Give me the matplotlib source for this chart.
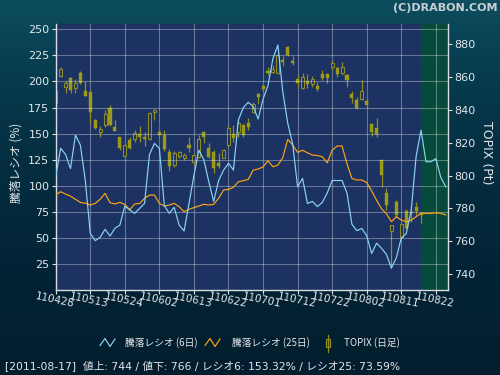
import matplotlib
matplotlib.use('Agg')
import matplotlib.pyplot as plt
import numpy as np
from matplotlib.lines import Line2D
from matplotlib.patches import Rectangle

# ---------------- data ----------------
tick_labels = ['110428', '110513', '110524', '110602', '110613', '110622',
               '110701', '110712', '110722', '110802', '110811', '110822']
tick_index = [0, 7, 14, 21, 28, 35, 42, 49, 56, 63, 70, 77]

ratio6 = [108.7, 135.9, 130, 116.5, 148.6, 139, 105, 54.4, 47.3, 50.5,
          58.2, 51.8, 59.2, 62.3, 80.5, 76.7, 73.5, 78.3, 83.1, 130,
          140.6, 135.9, 81, 73.5, 79.3, 62.3, 56.6, 83, 110, 134,
          125, 104, 85, 105, 115, 121.5, 115, 163, 175, 180,
          176, 164, 183, 196, 222, 235, 190, 160, 140, 99,
          107, 83, 85, 80, 84, 93, 105, 105, 105, 93,
          63, 57, 59, 52, 35, 45, 40, 34, 21, 31,
          50, 54, 76, 128, 153.32, 123, 123, 126, 108, 99]

ratio25 = [91.1, 94.3, 92, 90, 87, 84, 83.3, 81.5, 83, 87,
           92.7, 83.7, 82.5, 84.1, 82, 77, 82.5, 83, 87.9, 91,
           91.1, 83, 80.5, 81.5, 83.1, 79.9, 75.1, 77.4, 79, 80.5,
           82.2, 81.5, 82.2, 88, 95.9, 96.5, 98.5, 103.8, 104.8, 106.1,
           115, 116, 118, 124, 118.2, 119.8, 127, 144.5, 139, 132,
           134, 131.6, 129.4, 129, 127.8, 122, 134, 138.1, 138.1, 121,
           107, 105.5, 105.5, 103, 95, 86, 78, 73, 65.5, 70.3,
           67.1, 65.5, 67, 70.3, 73.59, 73.5, 73.5, 74, 73.5, 72]

topix_open = [844, 861, 854.1, 859.3, 853.5, 862.3, 851.5, 850.9, 833.8, 826.3,
              830.6, 841.3, 829.8, 823.3, 811.9, 821.6, 822.1, 825.1, 823.7, 822.4,
              838.5, 826.3, 824.7, 814.2, 806.5, 812.1, 810.5, 818.6, 808.4, 811.5,
              826.3, 816.6, 814.5, 807.8, 810.9, 818.6, 825.1, 826.3, 830.6, 832.2,
              838.9, 849.7, 854.6, 863.7, 863.3, 862.7, 870.4, 878.5, 869.8, 858.8,
              853.2, 857.6, 855.6, 854.6, 861.9, 861.9, 866.3, 865.7, 862.7, 861.3,
              849.7, 846.0, 846.5, 845.6, 831.2, 829.0, 809.4, 789.5, 766.3, 784.0,
              762.3, 778.3, 777.9, 780.6, 776.9]
topix_high = [854, 866, 857.6, 860, 858.9, 863.7, 857.6, 851.5, 834.4, 830.2,
              840, 843, 833.8, 823.7, 819.2, 823.7, 827.7, 830.2, 826.7, 838.5,
              840.5, 827.7, 827.7, 816, 815, 815.1, 813.5, 823.7, 813.5, 824.7,
              827.1, 820, 815.5, 813.7, 816, 830.8, 830.8, 834.3, 831.2, 834.9,
              844.6, 850.5, 855.8, 866, 867.2, 873.9, 872.9, 879, 872.9, 861.3,
              862.3, 861.7, 860.9, 857.3, 864.3, 862.7, 870.4, 866.3, 869.4, 861.7,
              851.5, 847.7, 858.2, 847.1, 831.8, 835.2, 809.4, 792.2, 769.8, 785.1,
              770.4, 779.4, 779.4, 784.0, 777.9]
topix_low = [841, 860, 850.5, 850.5, 850.5, 855.6, 848.7, 832.2, 828.2, 823.3,
             829.8, 830.2, 827.1, 815.5, 811.5, 815.9, 820.6, 820.6, 818, 821.9,
             834, 822.7, 815.2, 803, 805, 810.5, 809.5, 814.5, 806.5, 810.5,
             820, 810.5, 801.4, 804.6, 810.5, 817.6, 820.6, 823.7, 823.7, 827.7,
             837.9, 843.6, 851.7, 861.3, 862.7, 861.9, 866.8, 873.0, 867.4, 854.1,
             852.7, 853.5, 854.1, 851.5, 858.2, 856.7, 864.3, 860.2, 861.3, 854.1,
             844.4, 840.5, 846.0, 841.0, 824.3, 823.7, 793.2, 779.0, 743.4, 774.9,
             759.6, 767.2, 771.8, 775.9, 770.9]
topix_close = [851.5, 865, 856.2, 852.1, 856.2, 856.6, 848.7, 838.9, 828.8, 828.4,
               837.3, 830.8, 827.1, 816.9, 818.6, 816.9, 826.1, 823.7, 822.4, 837.9,
               840, 824.7, 816, 805.6, 813.9, 814.2, 812.5, 816.9, 812.5, 822.1,
               823.7, 811.5, 804.4, 805.8, 815.5, 828.8, 822.7, 832.2, 824.7, 829.4,
               843.6, 848.0, 852.7, 862.3, 864.8, 873.5, 869.0, 873.5, 868.4, 856.6,
               859.9, 856.0, 858.7, 852.7, 859.6, 859.6, 868.8, 861.7, 866.3, 858.2,
               847.4, 841.0, 851.5, 843.0, 826.3, 825.3, 800.3, 782.0, 769.8, 775.9,
               770.4, 767.8, 776.9, 778.5, 775.9]

last_day_index = 74
left_ticks = [25, 50, 75, 100, 125, 150, 175, 200, 225, 250]
right_ticks = [740, 760, 780, 800, 820, 840, 860, 880]

footer = '[2011-08-17]  値上: 744 / 値下: 766 / レシオ6: 153.32% / レシオ25: 73.59%'

# ---------------- style ----------------
W, H = 500, 375
TXT = '#e2e6ea'
NAVY = '#1b3262'
GREEN = '#054a3a'
OLIVE = '#9c9a18'
OLIVE_E = '#8e8c22'
BLUE = '#8ad4f2'
ORANGE = '#ffa514'
CJK = ['DejaVu Sans', 'Noto Sans CJK JP']


def fx(x):
    return x / W


def fy(y):
    return 1 - y / H


fig = plt.figure(figsize=(5, 3.75), dpi=100)

# background gradient
bg = fig.add_axes([0, 0, 1, 1], zorder=-10)
bg.set_axis_off()
yy = np.linspace(0, 1, 200)
stops_y = [0, 0.12, 0.35, 0.7, 1.0]
stops_c = np.array([[12, 78, 94], [8, 66, 84], [5, 50, 68], [3, 36, 54], [2, 30, 46]]) / 255.0
img = np.zeros((200, 200, 3))
for k in range(3):
    img[:, :, k] = np.interp(yy, stops_y, stops_c[:, k])[:, None]
bg.imshow(np.clip(img, 0, 1), aspect='auto', extent=[0, 1, 0, 1], origin='upper')
bg.set_xlim(0, 1)
bg.set_ylim(0, 1)

# main axes
rect = [fx(55.7), fy(290), fx(447.7 - 55.7), (290 - 23.7) / H]
axc = fig.add_axes(rect)
axc.set_facecolor(NAVY)
axl = axc.twinx()
axl.patch.set_visible(False)

x_days = np.arange(len(topix_open))
x_line = np.arange(len(ratio6))
xmax = 79.4

axc.set_xlim(0, xmax)
axc.set_ylim(730.2, 892.6)
axl.set_ylim(0, 255.4)

axc.axvspan(last_day_index, xmax, color=GREEN, zorder=0, lw=0)

# candles
o = np.array(topix_open)
c = np.array(topix_close)
hgh = np.array(topix_high)
low = np.array(topix_low)
up = c >= o
axc.vlines(x_days, low, hgh, color=OLIVE_E, lw=0.9, zorder=3)
bottom = np.minimum(o, c)
height = np.maximum(np.abs(c - o), 0.6)
axc.bar(x_days[~up], height[~up], bottom=bottom[~up], width=0.62,
        color=OLIVE, edgecolor=OLIVE, lw=0.3, zorder=4)
axc.bar(x_days[up], height[up], bottom=bottom[up], width=0.62,
        color=NAVY, edgecolor=OLIVE_E, lw=0.8, zorder=4)

# lines
axl.plot(x_line, ratio25, color=ORANGE, lw=0.85, zorder=5)
axl.plot(x_line, ratio6, color=BLUE, lw=0.85, zorder=6)

# grid
axc.set_xticks(tick_index)
axc.set_xticklabels(tick_labels)
axc.grid(axis='x', color='white', alpha=0.33, lw=0.8)
axc.set_axisbelow(True)
axl.set_yticks(left_ticks)
axl.yaxis.tick_left()
axl.grid(axis='y', color='white', alpha=0.33, lw=0.8)
axc.set_yticks(right_ticks)
axc.yaxis.tick_right()
axl.set_zorder(axc.get_zorder() + 1)

for a in (axc, axl):
    for s in a.spines.values():
        s.set_visible(False)
axl.spines['left'].set_visible(True)
axl.spines['left'].set_color('#d8dde2')
axl.spines['left'].set_linewidth(1.0)
axc.spines['right'].set_visible(True)
axc.spines['right'].set_color('#d8dde2')
axc.spines['right'].set_linewidth(1.0)
axc.spines['bottom'].set_visible(True)
axc.spines['bottom'].set_color('#d8dde2')
axc.spines['bottom'].set_linewidth(1.0)

axl.tick_params(axis='y', colors='#d8dde2', labelcolor=TXT, labelsize=8, length=3, width=0.8, pad=1.5)
axl.tick_params(axis='x', bottom=False, labelbottom=False, top=False)
axc.tick_params(axis='y', colors='#d8dde2', labelcolor=TXT, labelsize=8, length=3, width=0.8, pad=1.5,
                left=False, labelleft=False, right=True, labelright=True)
axc.tick_params(axis='x', colors='#d8dde2', labelcolor=TXT, labelsize=7.5, length=3, width=0.8, pad=1)
for lab in axc.get_xticklabels():
    lab.set_rotation(-12)
    lab.set_ha('center')
    lab.set_rotation_mode('anchor')
    lab.set_va('top')

# axis labels
fig.text(fx(16), fy(163), '騰落レシオ (%)', rotation=90, ha='center', va='center',
         color=TXT, fontsize=8.5, family=['Noto Sans CJK JP', 'DejaVu Sans'])
fig.text(fx(486), fy(153), 'TOPIX (Pt)', rotation=-90, ha='center', va='center',
         color=TXT, fontsize=9, family='DejaVu Sans')

# title
fig.text(fx(497), fy(8), '(C)DRABON.COM', ha='right', va='center', color='#c9cfd4',
         fontsize=8, fontweight='bold', family='DejaVu Sans')

# legend
fig.add_artist(Line2D([fx(100), fx(105), fx(110), fx(115)],
                      [fy(345.5), fy(338.5), fy(346.5), fy(339)], color=BLUE, lw=0.85))
fig.text(fx(125), fy(343), '騰落レシオ (6日)', ha='left', va='center', color=TXT,
         fontsize=7, family=['Noto Sans CJK JP', 'DejaVu Sans'])
fig.add_artist(Line2D([fx(205), fx(210), fx(215), fx(220)],
                      [fy(345.5), fy(338.5), fy(346.5), fy(339)], color=ORANGE, lw=0.85))
fig.text(fx(232), fy(343), '騰落レシオ (25日)', ha='left', va='center', color=TXT,
         fontsize=7, family=['Noto Sans CJK JP', 'DejaVu Sans'])
fig.add_artist(Line2D([fx(327.5), fx(327.5)], [fy(335), fy(352)], color=OLIVE_E, lw=0.9))
fig.add_artist(Rectangle((fx(325.5), fy(347)), fx(4), (347 - 339) / H,
                         facecolor='#052536', edgecolor=OLIVE_E, lw=0.9))
fig.text(fx(344), fy(343), 'TOPIX (日足)', ha='left', va='center', color=TXT,
         fontsize=7, family=['Noto Sans CJK JP', 'DejaVu Sans'])

# footer
fig.text(fx(5), fy(366), footer, ha='left', va='center', color=TXT,
         fontsize=7.75, family=CJK)

fig.savefig('out.png', dpi=100, facecolor=fig.get_facecolor())
